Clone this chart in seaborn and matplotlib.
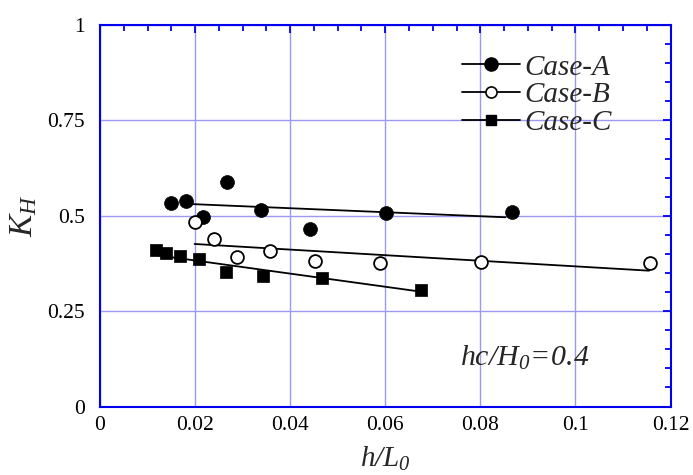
import numpy as np
import pandas as pd
import matplotlib
matplotlib.use("Agg")
import matplotlib.pyplot as plt
import seaborn as sns
from matplotlib.lines import Line2D
from matplotlib.ticker import MultipleLocator, FormatStrFormatter

# ---- data ----
a_x = [0.0150, 0.0180, 0.0267, 0.0217, 0.0339, 0.0441, 0.0601, 0.0867]
a_y = [0.533, 0.539, 0.588, 0.496, 0.515, 0.464, 0.508, 0.509]
b_x = [0.0200, 0.0239, 0.0289, 0.0357, 0.0452, 0.0590, 0.0802, 0.1156]
b_y = [0.484, 0.438, 0.391, 0.408, 0.382, 0.376, 0.379, 0.376]
c_x = [0.0117, 0.0138, 0.0168, 0.0208, 0.0264, 0.0343, 0.0467, 0.0675]
c_y = [0.409, 0.402, 0.394, 0.387, 0.352, 0.343, 0.337, 0.305]
# trend lines (end points)
a_fit_x = [0.0185, 0.0853]
a_fit_y = [0.531, 0.496]
b_fit_x = [0.0199, 0.1155]
b_fit_y = [0.426, 0.356]
c_fit_x = [0.0117, 0.0675]
c_fit_y = [0.397, 0.301]
labels = ["Case-A", "Case-B", "Case-C"]
xticks = [0, 0.02, 0.04, 0.06, 0.08, 0.1, 0.12]
yticks = [0, 0.25, 0.5, 0.75, 1]

sns.set_theme(style="white")
plt.rcParams["font.family"] = ["Liberation Serif", "DejaVu Serif"]
plt.rcParams["mathtext.fontset"] = "custom"
plt.rcParams["mathtext.rm"] = "Liberation Serif:italic"
plt.rcParams["mathtext.it"] = "Liberation Serif:italic"

fig = plt.figure(figsize=(6.93, 4.75), dpi=100)
ax = fig.add_axes([100 / 693, 1 - 406.5 / 475, 570.5 / 693, 381.5 / 475])

blue = "#0000ee"
grid = "#9a9af5"

fits = pd.DataFrame({
    "x": a_fit_x + b_fit_x + c_fit_x,
    "y": a_fit_y + b_fit_y + c_fit_y,
    "case": [labels[0]] * 2 + [labels[1]] * 2 + [labels[2]] * 2,
})
sns.lineplot(data=fits, x="x", y="y", units="case", estimator=None,
             color="black", lw=1.3, ax=ax, legend=False, zorder=3)

sns.scatterplot(x=a_x, y=a_y, ax=ax, marker="o", s=100, color="black",
                edgecolor="black", linewidth=0.5, zorder=4, legend=False)
sns.scatterplot(x=b_x, y=b_y, ax=ax, marker="o", s=85, facecolor="white",
                edgecolor="black", linewidth=1.3, zorder=4, legend=False)
sns.scatterplot(x=c_x, y=c_y, ax=ax, marker="s", s=65, color="black",
                edgecolor="black", linewidth=0.5, zorder=4, legend=False)

ax.set_xlim(0, 0.12)
ax.set_ylim(0, 1)
ax.set_xticks(xticks)
ax.set_yticks(yticks)
ax.xaxis.set_minor_locator(MultipleLocator(0.005))
ax.yaxis.set_minor_locator(MultipleLocator(0.05))
ax.xaxis.set_major_formatter(FormatStrFormatter("%g"))
ax.yaxis.set_major_formatter(FormatStrFormatter("%g"))
ax.grid(True, which="major", color=grid, lw=1.0)
ax.set_axisbelow(True)
for sp in ax.spines.values():
    sp.set_color(blue)
    sp.set_linewidth(1.5)
ax.tick_params(which="both", direction="in", top=True, right=True,
               color=blue, labelcolor="black", labelsize=15.5)
ax.tick_params(which="major", length=6, width=1.3)
ax.tick_params(which="minor", length=4.5, width=1.3)
ax.xaxis.set_tick_params(which="major", pad=7)
ax.yaxis.set_tick_params(which="major", pad=11)

ax.set_xlabel(r"$h/L_0$", fontsize=21, labelpad=7)
ax.set_ylabel(r"$K_H$", fontsize=24, labelpad=6)

handles = [
    Line2D([], [], color="black", lw=1.3, marker="o", ms=9.5, mfc="black", mec="black"),
    Line2D([], [], color="black", lw=1.3, marker="o", ms=8, mfc="white", mec="black", mew=1.2),
    Line2D([], [], color="black", lw=1.3, marker="s", ms=6.5, mfc="black", mec="black"),
]
leg = ax.legend(handles, labels, loc="upper right", bbox_to_anchor=(0.932, 0.977),
                frameon=False, handlelength=2.0, handletextpad=0.12,
                labelspacing=0.05, borderaxespad=0.3,
                prop={"family": "Liberation Serif", "style": "italic", "size": 21})

ax.text(0.0894, 0.127, r"$hc/H_0\!{=}\!0.4$", fontsize=21.5, ha="center", va="center")

fig.savefig("out.png", dpi=100)
